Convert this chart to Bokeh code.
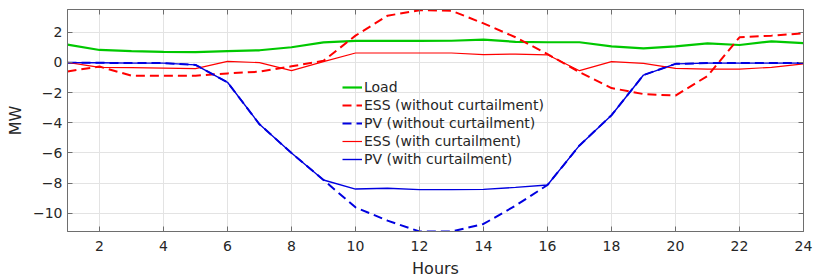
from bokeh.plotting import figure
from bokeh.models import Range1d, LinearAxis, FixedTicker, Legend, LegendItem
from bokeh.embed import file_html
from bokeh.resources import INLINE

hours = list(range(1, 25))
load = [1.17, 0.82, 0.75, 0.70, 0.68, 0.74, 0.80, 1.00, 1.32, 1.42, 1.42, 1.42,
        1.43, 1.50, 1.36, 1.33, 1.33, 1.06, 0.93, 1.06, 1.26, 1.15, 1.39, 1.27]
ess_wo = [-0.60, -0.28, -0.88, -0.88, -0.88, -0.73, -0.62, -0.26, 0.10, 1.77, 3.09, 3.45,
          3.42, 2.58, 1.66, 0.55, -0.65, -1.70, -2.10, -2.20, -0.90, 1.66, 1.77, 1.92]
pv_wo = [-0.02, -0.03, -0.05, -0.05, -0.17, -1.32, -4.10, -6.00, -7.79, -9.60, -10.48, -11.20,
         -11.20, -10.70, -9.49, -8.12, -5.50, -3.50, -0.84, -0.10, -0.05, -0.05, -0.05, -0.05]
ess_w = [0.00, -0.33, -0.35, -0.38, -0.42, 0.07, -0.02, -0.55, 0.05, 0.62, 0.62, 0.62,
         0.62, 0.51, 0.55, 0.50, -0.55, 0.05, -0.07, -0.40, -0.45, -0.45, -0.33, -0.10]
pv_w = [-0.02, -0.03, -0.05, -0.05, -0.17, -1.32, -4.10, -6.00, -7.79, -8.39, -8.34, -8.43,
        -8.43, -8.41, -8.28, -8.12, -5.50, -3.50, -0.84, -0.10, -0.05, -0.05, -0.05, -0.05]

x_ticks = list(range(2, 25, 2))
y_ticks = list(range(-10, 3, 2))

FONT = "DejaVu Sans"
AX = "#6e6e6e"
TXT = "#262626"

p = figure(frame_width=736, frame_height=222, output_backend="svg", toolbar_location=None,
           x_range=Range1d(1, 24), y_range=Range1d(-11.2, 3.5),
           min_border_left=67, min_border_right=11, min_border_top=9, min_border_bottom=49)
p.outline_line_color = AX
p.background_fill_color = "white"
p.border_fill_color = "white"

for ax in (p.xaxis[0], p.yaxis[0]):
    ax.axis_line_color = AX
    ax.major_tick_line_color = AX
    ax.major_tick_in = 5
    ax.major_tick_out = 0
    ax.minor_tick_line_color = None
    ax.major_label_text_font = FONT
    ax.major_label_text_font_size = "14px"
    ax.major_label_text_color = TXT
    ax.axis_label_text_font = FONT
    ax.axis_label_text_font_size = "16px"
    ax.axis_label_text_font_style = "normal"
    ax.axis_label_text_color = TXT

p.xaxis.ticker = FixedTicker(ticks=x_ticks)
p.yaxis.ticker = FixedTicker(ticks=y_ticks)
p.xaxis.axis_label = "Hours"
p.yaxis.axis_label = "MW"
p.xaxis.major_label_standoff = 9
p.xaxis.axis_label_standoff = 5
p.yaxis.major_label_standoff = 5
p.yaxis.axis_label_standoff = 5

p.xgrid.ticker = FixedTicker(ticks=x_ticks)
p.ygrid.ticker = FixedTicker(ticks=y_ticks)
p.grid.grid_line_color = "#e3e3e3"

top = LinearAxis(ticker=FixedTicker(ticks=x_ticks), major_label_text_font_size="0px",
                 major_label_text_color=None,
                 major_label_standoff=0, major_tick_in=5, major_tick_out=0,
                 axis_line_color=AX, major_tick_line_color=AX, minor_tick_line_color=None)
right = LinearAxis(ticker=FixedTicker(ticks=y_ticks), major_label_text_font_size="0px",
                   major_label_text_color=None,
                   major_label_standoff=0, major_tick_in=5, major_tick_out=0,
                   axis_line_color=AX, major_tick_line_color=AX, minor_tick_line_color=None)
p.add_layout(top, "above")
p.add_layout(right, "right")

r1 = p.line(hours, load, line_color="#00c800", line_width=2.2)
r2 = p.line(hours, ess_wo, line_color="#ff0000", line_width=2, line_dash="9 5")
r3 = p.line(hours, pv_wo, line_color="#0000e0", line_width=2, line_dash="9 5")
r4 = p.line(hours, ess_w, line_color="#ff0000", line_width=1.2)
r5 = p.line(hours, pv_w, line_color="#0000e0", line_width=1.4)

legend = Legend(items=[
    LegendItem(label="Load", renderers=[r1]),
    LegendItem(label="ESS (without curtailment)", renderers=[r2]),
    LegendItem(label="PV (without curtailment)", renderers=[r3]),
    LegendItem(label="ESS (with curtailment)", renderers=[r4]),
    LegendItem(label="PV (with curtailment)", renderers=[r5]),
], location=(275, 63))
legend.background_fill_alpha = 0
legend.border_line_color = None
legend.padding = 0
legend.margin = 0
legend.spacing = 0
legend.label_height = 18
legend.glyph_height = 18
legend.glyph_width = 20
legend.label_standoff = 2
legend.label_text_font = FONT
legend.label_text_font_size = "14px"
legend.label_text_color = TXT
p.add_layout(legend, "center")

open("out.html", "w").write(file_html(p, INLINE))
